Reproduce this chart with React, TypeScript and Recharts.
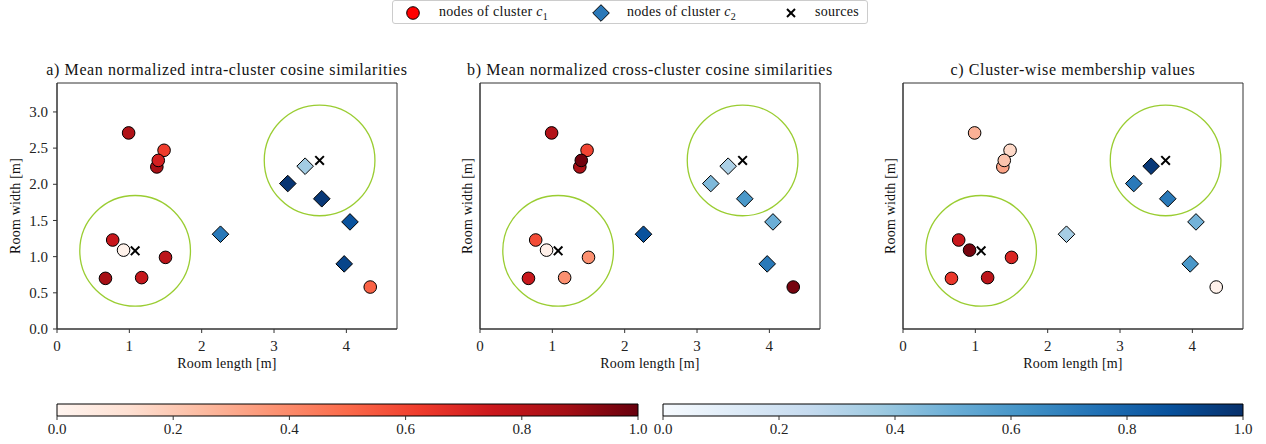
import React from 'react';
import { ScatterChart, Scatter, XAxis, YAxis, ReferenceDot, ReferenceArea, BarChart, Bar, Label } from 'recharts';

// node positions [m]
const c1X = [0.99, 1.48, 1.38, 1.40, 0.77, 0.92, 1.50, 0.67, 1.17, 4.33];
const c1Y = [2.71, 2.47, 2.24, 2.33, 1.23, 1.09, 0.99, 0.70, 0.71, 0.58];
const c2X = [3.43, 3.19, 3.66, 4.05, 2.26, 3.97];
const c2Y = [2.25, 2.01, 1.80, 1.48, 1.31, 0.90];
const srcX = [3.63, 1.08];
const srcY = [2.33, 1.08];
const srcRadius = 0.765;

// colour values per panel
const intraC1 = [0.84, 0.62, 0.86, 0.72, 0.76, 0.02, 0.8, 0.87, 0.77, 0.52];
const intraC2 = [0.36, 0.98, 0.97, 0.87, 0.72, 0.92];
const crossC1 = [0.83, 0.6, 0.85, 0.98, 0.58, 0.03, 0.38, 0.76, 0.38, 0.97];
const crossC2 = [0.33, 0.45, 0.6, 0.5, 0.87, 0.72];
const memberC1 = [0.28, 0.15, 0.32, 0.22, 0.76, 0.97, 0.7, 0.64, 0.8, 0.02];
const memberC2 = [0.97, 0.72, 0.72, 0.48, 0.35, 0.6];

const titles = [
  'a) Mean normalized intra-cluster cosine similarities',
  'b) Mean normalized cross-cluster cosine similarities',
  'c) Cluster-wise membership values',
];
const xTicks = [0, 1, 2, 3, 4];
const yTicks = [0, 0.5, 1, 1.5, 2, 2.5, 3];
const cbTicks = [0, 0.2, 0.4, 0.6, 0.8, 1];

const REDS = ['#fff5f0', '#fee0d2', '#fcbba1', '#fc9272', '#fb6a4a', '#ef3b2c', '#cb181d', '#a50f15', '#67000d'];
const BLUES = ['#f7fbff', '#deebf7', '#c6dbef', '#9ecae1', '#6baed6', '#4292c6', '#2171b5', '#08519c', '#08306b'];

const FONT = '"Liberation Serif", serif';
const X_MAX = 4.7;
const Y_MAX = 3.4;
const PLOT_W = 340;
const PX_PER_M = PLOT_W / X_MAX;

function cmap(stops: string[], v: number) {
  const t = Math.max(0, Math.min(1, v)) * (stops.length - 1);
  const i = Math.min(Math.floor(t), stops.length - 2);
  const f = t - i;
  const a = parseInt(stops[i].slice(1), 16);
  const b = parseInt(stops[i + 1].slice(1), 16);
  const ch = (s: number) => Math.round(((a >> s) & 255) * (1 - f) + ((b >> s) & 255) * f);
  return `rgb(${ch(16)},${ch(8)},${ch(0)})`;
}

const RedDot = (p: any) => (
  <circle cx={p.cx} cy={p.cy} r={6.3} fill={cmap(REDS, p.payload.v)} stroke="#000" strokeWidth={1} />
);
const BlueDiamond = (p: any) => {
  const s = 8.3;
  return (
    <polygon
      points={`${p.cx},${p.cy - s} ${p.cx + s},${p.cy} ${p.cx},${p.cy + s} ${p.cx - s},${p.cy}`}
      fill={cmap(BLUES, p.payload.v)}
      stroke="#000"
      strokeWidth={1}
    />
  );
};
const SrcCross = (p: any) => {
  const s = 4.3;
  return (
    <g stroke="#000" strokeWidth={2}>
      <line x1={p.cx - s} y1={p.cy - s} x2={p.cx + s} y2={p.cy + s} />
      <line x1={p.cx - s} y1={p.cy + s} x2={p.cx + s} y2={p.cy - s} />
    </g>
  );
};

const fmtInt = (v: number) => String(v);
const fmt1 = (v: number) => v.toFixed(1);

const mkTick = (fmt: (v: number) => string) => (p: any) => (
  <text
    x={p.x}
    y={p.y}
    textAnchor={p.textAnchor}
    dy={p.verticalAnchor === 'start' ? '0.71em' : '0.34em'}
    style={{ fontFamily: FONT, fontSize: 15, fill: '#222' }}
  >
    {fmt(p.payload.value)}
  </text>
);

const labelStyle = { fontFamily: FONT, fontSize: 14, fill: '#111', letterSpacing: 0.2 };

function Panel({ left, title, v1, v2, yTickLabels, yLabelOffset }: any) {
  const d1 = c1X.map((x, i) => ({ x, y: c1Y[i], v: v1[i] }));
  const d2 = c2X.map((x, i) => ({ x, y: c2Y[i], v: v2[i] }));
  const src = srcX.map((x, i) => ({ x, y: srcY[i] }));
  return (
    <div style={{ position: 'absolute', left, top: 0, width: 420, height: 444, fontFamily: FONT }}>
      <div
        style={{
          position: 'absolute', left: 57 - 40, width: PLOT_W + 80, top: 60, textAlign: 'center',
          fontSize: 16, letterSpacing: 0.6, color: '#111', whiteSpace: 'nowrap', lineHeight: '19px',
        }}
      >
        {title}
      </div>
      <ScatterChart width={420} height={444} margin={{ top: 83, right: 23, bottom: 75, left: 7 }}>
        <XAxis
          type="number" dataKey="x" domain={[0, X_MAX]} ticks={xTicks} height={40}
          tick={mkTick(fmtInt)} tickSize={4} tickMargin={7} stroke="#333"
        >
          <Label value="Room length [m]" position="insideBottom" offset={1} style={labelStyle} />
        </XAxis>
        <YAxis
          type="number" dataKey="y" domain={[0, Y_MAX]} ticks={yTicks} width={50}
          tick={yTickLabels ? mkTick(fmt1) : false}
          tickSize={4} tickMargin={5} stroke="#333"
        >
          <Label
            value="Room width [m]" angle={-90} position="insideLeft" offset={yLabelOffset}
            style={{ ...labelStyle, textAnchor: 'middle' }}
          />
        </YAxis>
        <ReferenceArea x1={0} x2={X_MAX} y1={0} y2={Y_MAX} fill="none" stroke="#333" strokeWidth={1} ifOverflow="visible" />
        {src.map((s, i) => (
          <ReferenceDot key={i} x={s.x} y={s.y} r={srcRadius * PX_PER_M} fill="none" stroke="#9acd32" strokeWidth={1.3} ifOverflow="visible" />
        ))}
        <Scatter data={d1} shape={RedDot} isAnimationActive={false} />
        <Scatter data={d2} shape={BlueDiamond} isAnimationActive={false} />
        <Scatter data={src} shape={SrcCross} isAnimationActive={false} />
      </ScatterChart>
    </div>
  );
}

function ColorBar({ left, width, mLeft, mRight, stops, id }: any) {
  return (
    <div style={{ position: 'absolute', left, top: 390, fontFamily: FONT }}>
      <BarChart
        width={width} height={54} layout="vertical" data={[{ name: 'cb', v: 1 }]}
        margin={{ top: 14, right: mRight, bottom: 0, left: mLeft }} barCategoryGap={0}
      >
        <defs>
          <linearGradient id={id} x1="0" y1="0" x2="1" y2="0">
            {stops.map((c: string, i: number) => (
              <stop key={i} offset={i / (stops.length - 1)} stopColor={c} />
            ))}
          </linearGradient>
        </defs>
        <XAxis
          type="number" domain={[0, 1]} ticks={cbTicks} height={28} tick={mkTick(fmt1)}
          tickSize={4} tickMargin={3} stroke="#333" axisLine={false}
        />
        <YAxis type="category" dataKey="name" hide width={0} />
        <Bar dataKey="v" fill={`url(#${id})`} stroke="#000" strokeWidth={1} isAnimationActive={false} />
      </BarChart>
    </div>
  );
}

function Legend() {
  const txt = {
    position: 'absolute' as const, top: 2, fontFamily: FONT, fontSize: 14, letterSpacing: 0.3,
    color: '#111', whiteSpace: 'nowrap' as const, lineHeight: '18px',
  };
  return (
    <div
      style={{
        position: 'absolute', left: 392, top: 0, width: 474, height: 22,
        border: '1px solid #ccc', borderRadius: 3, background: '#fff',
      }}
    >
      <svg style={{ position: 'absolute', left: 0, top: 0 }} width={474} height={22}>
        <circle cx={20} cy={12} r={6.3} fill="#f00" stroke="#000" strokeWidth={1} />
        <polygon points="208,3.7 216.3,12 208,20.3 199.7,12" fill="#2a78b8" stroke="#000" strokeWidth={1} />
        <g stroke="#000" strokeWidth={2}>
          <line x1={394} y1={8} x2={402} y2={16} />
          <line x1={394} y1={16} x2={402} y2={8} />
        </g>
      </svg>
      <span style={{ ...txt, left: 46 }}>
        nodes of cluster <i>c</i><sub style={{ fontSize: 10, lineHeight: 0 }}>1</sub>
      </span>
      <span style={{ ...txt, left: 234 }}>
        nodes of cluster <i>c</i><sub style={{ fontSize: 10, lineHeight: 0 }}>2</sub>
      </span>
      <span style={{ ...txt, left: 422 }}>sources</span>
    </div>
  );
}

export default function App() {
  return (
    <div style={{ position: 'absolute', left: 0, top: 0, width: 1266, height: 444, background: '#fff', overflow: 'hidden' }}>
      <Legend />
      <Panel left={0} title={titles[0]} v1={intraC1} v2={intraC2} yTickLabels yLabelOffset={8} />
      <Panel left={423} title={titles[1]} v1={crossC1} v2={crossC2} yTickLabels={false} yLabelOffset={37} />
      <Panel left={846} title={titles[2]} v1={memberC1} v2={memberC2} yTickLabels={false} yLabelOffset={37} />
      <ColorBar left={0} width={660} mLeft={57} mRight={22} stops={REDS} id="redsGrad" />
      <ColorBar left={640} width={626} mLeft={23} mRight={23} stops={BLUES} id="bluesGrad" />
    </div>
  );
}
